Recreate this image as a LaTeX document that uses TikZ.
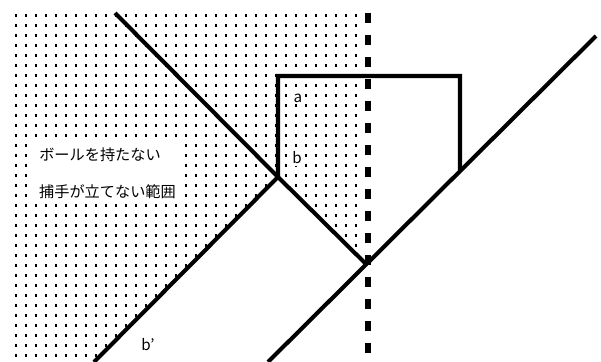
\documentclass[tikz,border=0pt]{standalone}
\usepackage{fontspec}
\newfontfamily\jpfont{Noto Sans CJK JP}
\usepackage{tikz}

\tikzset{
  wall/.style={line width=2.9pt, line cap=butt, line join=miter},
  mark line/.style={line width=3.6pt, dash pattern=on 0.25cm off 0.3cm},
  lbl/.style={font=\jpfont\fontsize{10.8}{12}\selectfont, inner sep=1pt}
}

\begin{document}
\begin{tikzpicture}[x=0.025cm, y=-0.025cm]
  \useasboundingbox (0,0) rectangle (601,362);
  \fill[white] (0,0) rectangle (601,362);

  % corner points
  \coordinate (TL) at (115,13);
  \coordinate (J)  at (278,177);
  \coordinate (V)  at (367,265);
  \coordinate (BL) at (94,362);
  \coordinate (BT) at (278,76);
  \coordinate (BR) at (460,76);
  \coordinate (BQ) at (460,170);
  \coordinate (DT) at (596,36);
  \coordinate (DB) at (268,362);
  \coordinate (MT) at (368,13);
  \coordinate (MB) at (368,362);

  % dotted area
  \begin{scope}
    \clip (13,10) -- (368,10) -- (V) -- (J) -- (BL) -- (13,362) -- cycle;
    \foreach \i in {0,...,34}
      \foreach \j in {0,...,34}
        \fill (15+10*\i,14+10*\j) rectangle +(2,3);
  \end{scope}

  % texts
  \fill[white] (31,140) rectangle (182,202);
  \node[lbl] (t1) at (100,155) {ボールを持たない};
  \node[lbl] (t2) at (107.5,192) {捕手が立てない範囲};
  \node[lbl, fill=white] (la) at (298,98) {a};
  \node[lbl, fill=white] (lb) at (297,158) {b};
  \node[lbl] (lc) at (148,345) {b’};

  % lines
  \draw[mark line] (MT) -- (MB);
  \draw[wall] (TL) -- (J) -- (V);
  \draw[wall] (BL) -- (J) -- (BT) -- (BR) -- (BQ);
  \draw[wall] (DB) -- (DT);
\end{tikzpicture}
\end{document}
